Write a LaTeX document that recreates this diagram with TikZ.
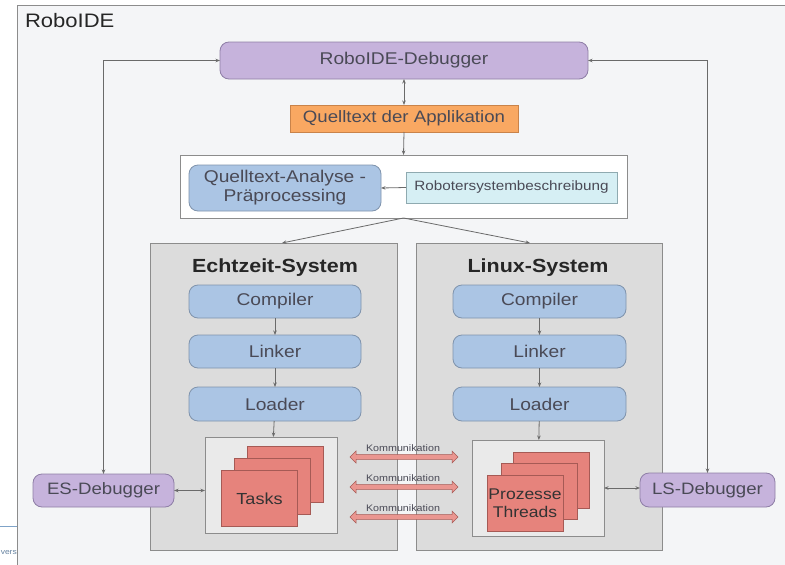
\documentclass[tikz,border=0pt]{standalone}
\usepackage{fontspec}
\setmainfont{Liberation Sans}[FakeStretch=1.13]
\usetikzlibrary{arrows.meta,shapes.arrows}
\definecolor{framebg}{HTML}{F4F5F7}
\definecolor{sysgray}{HTML}{DCDCDC}
\definecolor{sysborder}{HTML}{8C8C8C}
\definecolor{purp}{HTML}{C6B3DC}
\definecolor{purpb}{HTML}{8E7EA6}
\definecolor{blu}{HTML}{ABC5E4}
\definecolor{blub}{HTML}{7F93AC}
\definecolor{orng}{HTML}{F9A862}
\definecolor{orngb}{HTML}{C9834A}
\definecolor{cyn}{HTML}{D6EFF4}
\definecolor{cynb}{HTML}{8FAAB0}
\definecolor{pnk}{HTML}{E6837C}
\definecolor{pnkb}{HTML}{A65A55}
\definecolor{txt}{HTML}{4A4A56}
\definecolor{lin}{HTML}{6A6A6A}
\definecolor{footer}{HTML}{7FA3C8}
\tikzset{
  x=1pt,y=-1pt,
  every node/.style={inner sep=0pt,outer sep=0pt,text=txt,align=center},
  dbg/.style={draw=purpb,fill=purp,rounded corners=9pt,line width=0.8pt},
  bluebox/.style={draw=blub,fill=blu,rounded corners=9pt,line width=0.8pt,font=\fontsize{17}{19}\selectfont},
  sysbox/.style={draw=sysborder,fill=sysgray,line width=0.8pt},
  whitebox/.style={draw=sysborder,fill=white,line width=0.8pt},
  innerbox/.style={draw=sysborder,fill=sysgray!60!white,line width=0.8pt},
  sq/.style={draw=pnkb,fill=pnk,line width=0.8pt,minimum width=76pt,minimum height=56pt},
  conn/.style={draw=lin,line width=0.8pt},
  tip/.style={-{Stealth[length=4.5pt,width=3.5pt]}},
  tips/.style={{Stealth[length=4.5pt,width=3.5pt]}-{Stealth[length=4.5pt,width=3.5pt]}},
  komm/.style={double arrow,draw=pnkb,fill=pnk!85!white,line width=0.5pt,minimum height=108pt,minimum width=12pt,inner sep=1.6pt,double arrow head extend=3pt},
  kommlbl/.style={font=\fontsize{9.5}{10}\selectfont},
}
\begin{document}
\begin{tikzpicture}
\useasboundingbox (0,0) rectangle (785,565);
\fill[white] (0,0) rectangle (785,565);
\clip (0,0) rectangle (785,565);
% outer frame
\draw[draw=sysborder,fill=framebg,line width=0.8pt] (17,5) rectangle (800,580);
\draw[footer,line width=0.8pt] (0,526) -- (17,526);
\node[anchor=west,text=footer!80!black,font=\fontsize{7.5}{9}\selectfont] (uni) at (0.8,553) {vers};
\node[anchor=west,font=\fontsize{19.5}{22}\selectfont,text=black!85] (title) at (25,21) {RoboIDE};

% top part
\node[dbg,minimum width=368pt,minimum height=37pt,font=\fontsize{17}{19}\selectfont] (rdbg) at (404,60.5) {RoboIDE-Debugger};
\node[draw=orngb,fill=orng,minimum width=228pt,minimum height=27pt,line width=0.8pt,font=\fontsize{16.5}{18}\selectfont] (qa) at (404,118.5) {Quelltext der Applikation};
\node[whitebox,minimum width=447pt,minimum height=63pt] (wb) at (403.5,186.5) {};
\node[bluebox,minimum width=192pt,minimum height=46pt,font=\fontsize{17}{18}\selectfont] (ana) at (285,188) {Quelltext-Analyse -\\[1pt]Präprocessing};
\node[draw=cynb,fill=cyn,line width=0.8pt,minimum width=211pt,minimum height=31pt,font=\fontsize{13.5}{15}\selectfont] (rsb) at (511.5,187.5) {Robotersystembeschreibung};

% system boxes
\node[sysbox,minimum width=247pt,minimum height=307pt] (es) at (273.5,396.5) {};
\node[sysbox,minimum width=246pt,minimum height=307pt] (ls) at (539,396.5) {};
\node[font=\bfseries\fontsize{19}{21}\selectfont,text=black!85] (est) at (275,268) {Echtzeit-System};
\node[font=\bfseries\fontsize{19}{21}\selectfont,text=black!85] (lst) at (538,268) {Linux-System};

\node[bluebox,minimum width=172pt,minimum height=33pt] (c1) at (275,301.5) {Compiler};
\node[bluebox,minimum width=172pt,minimum height=33pt] (l1) at (275,351.5) {Linker};
\node[bluebox,minimum width=172pt,minimum height=34pt] (o1) at (275,404) {Loader};
\node[bluebox,minimum width=173pt,minimum height=33pt] (c2) at (539.5,301.5) {Compiler};
\node[bluebox,minimum width=173pt,minimum height=33pt] (l2) at (539.5,351.5) {Linker};
\node[bluebox,minimum width=173pt,minimum height=34pt] (o2) at (539.5,404) {Loader};

\node[innerbox,minimum width=132pt,minimum height=96pt] (tb) at (271,485) {};
\node[sq] (t3) at (285.5,474.5) {};
\node[sq] (t2) at (272.5,486.5) {};
\node[sq,font=\fontsize{16}{18}\selectfont,text=black!80] (t1) at (259.5,498.5) {Tasks};

\node[innerbox,minimum width=132pt,minimum height=96pt] (pb) at (538,488) {};
\node[sq] (p3) at (551,480) {};
\node[sq] (p2) at (539,491.5) {};
\node[sq,font=\fontsize{15.5}{17}\selectfont,text=black!80] (p1) at (525,503.5) {Prozesse\\[1pt]Threads};

\node[dbg,minimum width=141pt,minimum height=33pt,font=\fontsize{16.5}{19}\selectfont] (esd) at (103.5,490.5) {ES-Debugger};
\node[dbg,minimum width=135pt,minimum height=34pt,font=\fontsize{16.5}{19}\selectfont] (lsd) at (707.5,490) {LS-Debugger};

% Kommunikation
\foreach \i/\yy in {1/457,2/487,3/517}{
  \node[komm] (k\i) at (404,\yy) {};
  \node[kommlbl] (kl\i) at (403,\yy-8.5) {Kommunikation};
}

% connectors
\draw[conn,tips] (rdbg.south) -- (qa.north);
\draw[conn,tip] (qa.south) -- (wb.north);
\draw[conn,tip] (rsb.west) -- (ana.east);
\draw[conn,tip] (wb.south) -- (es.north -| 282,0);
\draw[conn,tip] (wb.south) -- (ls.north -| 530,0);
\draw[conn,tip] (c1) -- (l1);
\draw[conn,tip] (l1) -- (o1);
\draw[conn,tip] (o1) -- (tb);
\draw[conn,tip] (c2) -- (l2);
\draw[conn,tip] (l2) -- (o2);
\draw[conn,tip] (o2) -- (pb);
\draw[conn,tips] (rdbg.west) -| (esd.north);
\draw[conn,tips] (rdbg.east) -| (lsd.north);
\draw[conn,tips] (esd.east) -- (esd.east -| tb.west);
\draw[conn,tips] (pb.east) -- (pb.east -| lsd.west);
\end{tikzpicture}
\end{document}
